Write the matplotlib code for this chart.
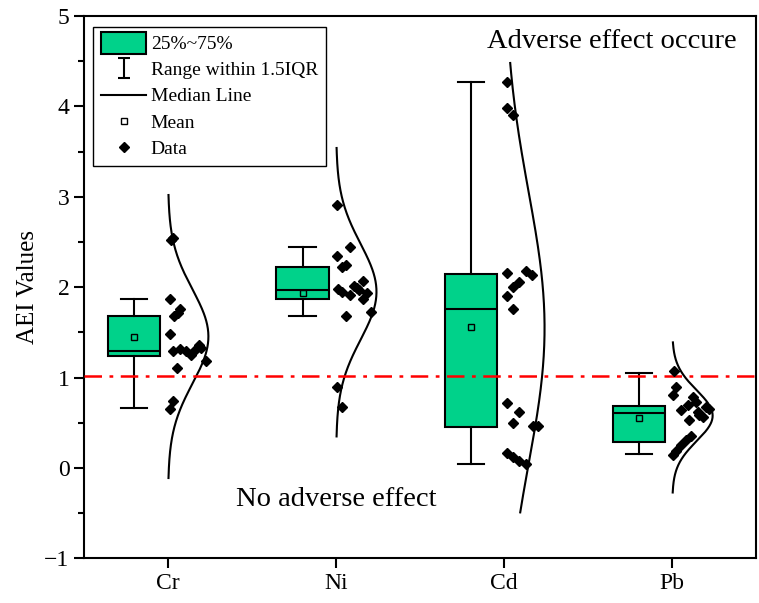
import numpy as np
import matplotlib
matplotlib.use('Agg')
import matplotlib.pyplot as plt
from matplotlib.patches import Patch, Rectangle
from matplotlib.lines import Line2D
from matplotlib.path import Path
from matplotlib.legend_handler import HandlerPatch
from matplotlib.ticker import MultipleLocator

plt.rcParams['font.family'] = ['Liberation Serif', 'DejaVu Serif']

####################
# values

elements = ['Cr', 'Ni', 'Cd', 'Pb']

whis_lo = [0.66, 1.68, 0.045, 0.16]
q1 = [1.245, 1.87, 0.45, 0.29]
med = [1.30, 1.97, 1.76, 0.61]
q3 = [1.685, 2.22, 2.15, 0.69]
whis_hi = [1.87, 2.45, 4.27, 1.05]
means = [1.455, 1.94, 1.555, 0.555]

cr_vals = [2.55, 2.525, 1.87, 1.76, 1.72, 1.685, 1.485, 1.29, 1.315, 1.29,
           1.25, 1.31, 1.365, 1.33, 1.18, 1.11, 0.745, 0.655]
cr_dx = [0.027, 0.019, 0.009, 0.074, 0.058, 0.034, 0.009, 0.028, 0.074, 0.104,
         0.134, 0.158, 0.184, 0.198, 0.223, 0.052, 0.028, 0.009]

ni_vals = [2.91, 2.445, 2.35, 2.25, 2.22, 2.065, 1.98, 1.945, 1.915, 2.01,
           1.99, 1.965, 1.94, 1.87, 1.725, 1.68, 0.895, 0.68]
ni_dx = [0.008, 0.083, 0.008, 0.058, 0.034, 0.157, 0.014, 0.034, 0.083, 0.107,
         0.127, 0.137, 0.186, 0.162, 0.21, 0.058, 0.008, 0.032]

cd_vals = [4.27, 3.98, 3.90, 2.155, 2.18, 2.14, 2.055, 2.0, 1.90, 1.76,
           0.72, 0.62, 0.50, 0.46, 0.47, 0.165, 0.12, 0.075, 0.045]
cd_dx = [0.016, 0.016, 0.055, 0.016, 0.131, 0.165, 0.089, 0.055, 0.016, 0.055,
         0.016, 0.089, 0.055, 0.174, 0.2, 0.016, 0.055, 0.089, 0.131]

pb_vals = [1.07, 0.90, 0.81, 0.79, 0.735, 0.70, 0.675, 0.655, 0.645, 0.625,
           0.59, 0.565, 0.535, 0.35, 0.315, 0.26, 0.185, 0.15]
pb_dx = [0.012, 0.022, 0.006, 0.121, 0.141, 0.091, 0.2, 0.22, 0.052, 0.15,
         0.16, 0.184, 0.1, 0.111, 0.081, 0.052, 0.022, 0.006]

# normal curves (centre, sd, drawn range)
curve_mu = [1.455, 1.95, 1.55, 0.58]
curve_sd = [0.52, 0.53, 1.5, 0.28]
curve_lo = [-0.11, 0.35, -0.49, -0.27]
curve_hi = [3.02, 3.54, 4.48, 1.39]

threshold = 1.02

####################

green = '#00D28A'
all_vals = [cr_vals, ni_vals, cd_vals, pb_vals]
all_dx = [cr_dx, ni_dx, cd_dx, pb_dx]
pos = np.arange(1, len(elements) + 1)

fig = plt.figure(figsize=(7.59, 6.03), dpi=100)
ax = fig.add_subplot(111)
fig.subplots_adjust(left=0.1107, right=0.9965, bottom=0.0738, top=0.9735)

stats = []
for i in range(len(elements)):
    stats.append(dict(med=med[i], q1=q1[i], q3=q3[i], whislo=whis_lo[i],
                      whishi=whis_hi[i], mean=means[i], fliers=[]))

ax.bxp(stats, positions=pos - 0.2, widths=0.31, capwidths=0.155,
       patch_artist=True, showmeans=True, showfliers=False,
       boxprops=dict(facecolor=green, edgecolor='k', linewidth=1.5),
       medianprops=dict(color='k', linewidth=1.5),
       whiskerprops=dict(color='k', linewidth=1.5),
       capprops=dict(color='k', linewidth=1.5),
       meanprops=dict(marker='s', markerfacecolor='none', markeredgecolor='k',
                      markersize=5, markeredgewidth=1.0),
       zorder=2)

for i in range(len(elements)):
    yy = np.linspace(curve_lo[i], curve_hi[i], 300)
    xx = pos[i] + 0.24 * np.exp(-(yy - curve_mu[i]) ** 2 / (2 * curve_sd[i] ** 2))
    ax.plot(xx, yy, color='k', lw=1.5, zorder=3)
    ax.plot(pos[i] + np.array(all_dx[i]), all_vals[i], 'D', color='k',
            markersize=5.5, linestyle='none', zorder=4)

ax.axhline(threshold, color='red', lw=1.8, ls=(0, (7, 3, 1.5, 3)), zorder=3.5)

ax.text(3.64, 4.72, 'Adverse effect occure', ha='center', va='center', fontsize=20.5)
ax.text(2.0, -0.35, 'No adverse effect', ha='center', va='center', fontsize=20.5)

ax.set_xlim(0.5, 4.5)
ax.set_ylim(-1, 5)
ax.set_xticks(pos)
ax.set_xticklabels(elements)
ax.yaxis.set_major_locator(MultipleLocator(1))
ax.yaxis.set_minor_locator(MultipleLocator(0.5))
ax.tick_params(axis='both', which='major', direction='out', length=7, width=1.5,
               labelsize=17)
ax.tick_params(axis='y', which='minor', direction='out', length=4, width=1.5)
ax.tick_params(axis='x', which='minor', bottom=False)
for s in ax.spines.values():
    s.set_linewidth(1.5)
ax.set_ylabel('AEI Values', fontsize=18)

# legend
i_path = Path([(-0.6, -1), (0.6, -1), (0, -1), (0, 1), (-0.6, 1), (0.6, 1)],
              [Path.MOVETO, Path.LINETO, Path.MOVETO, Path.LINETO,
               Path.MOVETO, Path.LINETO])


def big_rect(legend, orig_handle, xdescent, ydescent, width, height, fontsize):
    return Rectangle((-xdescent, -ydescent - 0.4 * height), width, height * 1.6)


handles = [
    Patch(facecolor=green, edgecolor='k', linewidth=1.5),
    Line2D([], [], color='k', marker=i_path, linestyle='none', markersize=14.5,
           markeredgewidth=1.5),
    Line2D([], [], color='k', lw=1.5),
    Line2D([], [], marker='s', linestyle='none', markerfacecolor='none',
           markeredgecolor='k', markersize=5, markeredgewidth=1.0),
    Line2D([], [], marker='D', linestyle='none', color='k', markersize=5.5),
]
labels = ['25%~75%', 'Range within 1.5IQR', 'Median Line', 'Mean', 'Data']
leg = ax.legend(handles, labels, loc='upper left', bbox_to_anchor=(0.014, 0.979),
                borderaxespad=0, fontsize=14, frameon=True, fancybox=False,
                edgecolor='k', framealpha=1, handlelength=2.3, handleheight=0.7,
                handletextpad=0.25, labelspacing=0.45, borderpad=0.4,
                handler_map={Patch: HandlerPatch(patch_func=big_rect)})
leg.get_frame().set_linewidth(1.0)

plt.savefig('out.png', dpi=100)
